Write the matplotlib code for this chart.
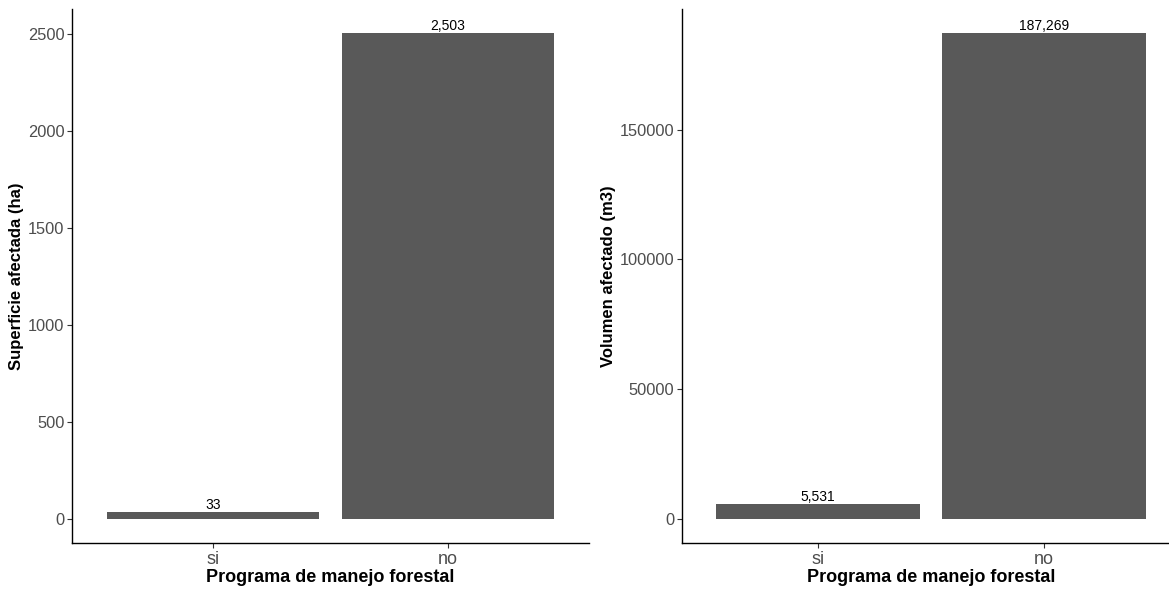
import matplotlib
matplotlib.use("Agg")
import matplotlib.pyplot as plt

categories = ["si", "no"]
superficie = [33, 2503]
volumen = [5531, 187269]
bar_labels_sup = ["33", "2,503"]
bar_labels_vol = ["5,531", "187,269"]
xlabel = "Programa de manejo forestal"
ylabel_sup = "Superficie afectada (ha)"
ylabel_vol = "Volumen afectado (m3)"
yticks_sup = [0, 500, 1000, 1500, 2000, 2500]
yticks_vol = [0, 50000, 100000, 150000]

plt.rcParams['font.family'] = ['Liberation Sans', 'DejaVu Sans']

W, H = 1169, 590
fig = plt.figure(figsize=(W / 100, H / 100), dpi=100)

def px(x0, y0, x1, y1):
    return [x0 / W, 1 - y1 / H, (x1 - x0) / W, (y1 - y0) / H]

bar_color = "#595959"

def panel(ax, values, labels, ylabel, yticks):
    xs = list(range(1, len(categories) + 1))
    ax.bar(xs, values, width=0.9, color=bar_color)
    vmax = max(values)
    ax.set_xlim(0.4, len(categories) + 0.6)
    ax.set_ylim(-0.05 * vmax, 1.05 * vmax)
    for x, v, lab in zip(xs, values, labels):
        ax.text(x, v, lab, ha="center", va="bottom", fontsize=10, color="black")
    ax.set_xticks(xs)
    ax.set_xticklabels(categories, fontsize=13, color="#4D4D4D")
    ax.set_yticks(yticks)
    ax.set_yticklabels([str(t) for t in yticks], fontsize=11.8, color="#4D4D4D")
    ax.tick_params(axis="both", length=3.5, width=0.8, color="#333333", pad=2)
    for s in ["top", "right"]:
        ax.spines[s].set_visible(False)
    for s in ["left", "bottom"]:
        ax.spines[s].set_linewidth(1.0)
        ax.spines[s].set_color("black")
    ax.set_xlabel(xlabel, fontsize=13, fontweight="bold", labelpad=1)
    ax.set_ylabel(ylabel, fontsize=12, fontweight="bold", labelpad=3)

ax1 = fig.add_axes(px(72, 9, 589, 543))
panel(ax1, superficie, bar_labels_sup, ylabel_sup, yticks_sup)

ax2 = fig.add_axes(px(682, 9, 1180, 543))
panel(ax2, volumen, bar_labels_vol, ylabel_vol, yticks_vol)

fig.savefig("out.png", dpi=100)
